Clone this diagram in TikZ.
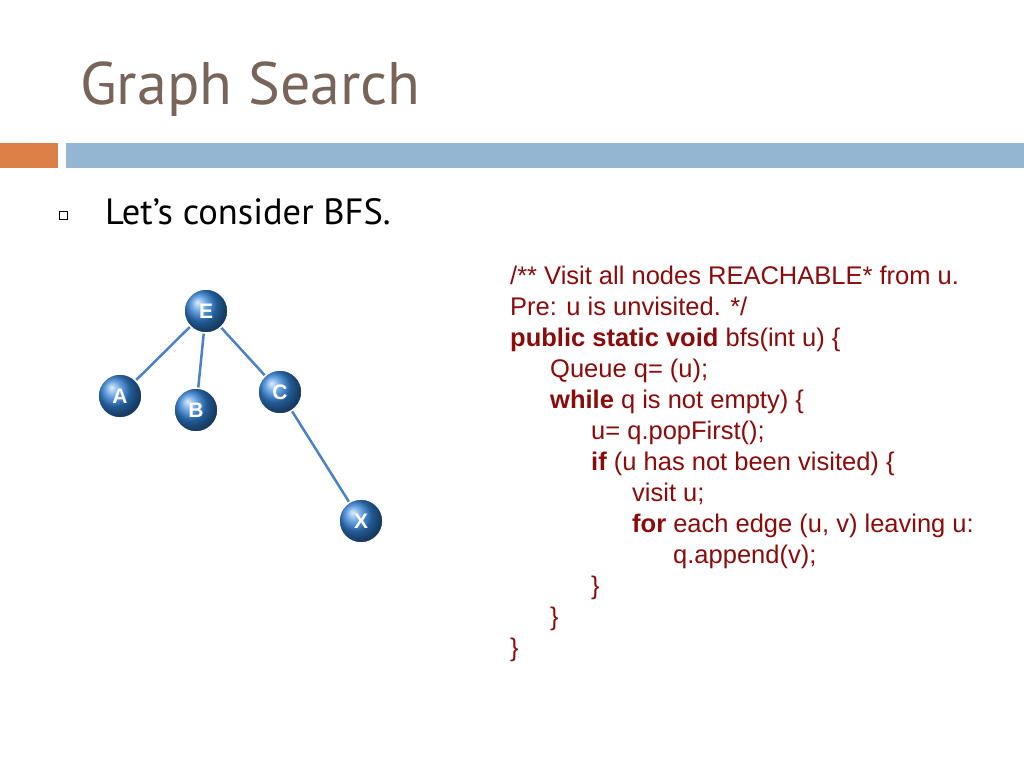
\documentclass[tikz,border=0pt]{standalone}
\usepackage{fontspec}
\usetikzlibrary{backgrounds}
\setmainfont{Liberation Sans}
\newfontfamily\titlefont{PT Sans}
\definecolor{titlec}{RGB}{120,100,88}
\definecolor{orangec}{RGB}{221,128,71}
\definecolor{bluec}{RGB}{148,182,210}
\definecolor{codec}{RGB}{140,10,10}
\definecolor{edgec}{RGB}{75,130,195}
\definecolor{ballc}{RGB}{50,130,215}
\begin{document}
\begin{tikzpicture}[x=1pt,y=-1pt,
  ball/.style={circle,minimum size=44pt,inner sep=0pt,shading=ball,ball color=ballc,draw=white,line width=1.5pt,text=white,font=\bfseries\fontsize{21}{21}\selectfont},
  edge/.style={draw=edgec,line width=2.5pt},
  code/.style={anchor=base west,text=codec,font=\fontsize{25.5}{25.5}\selectfont,inner sep=0pt}]
\useasboundingbox (0,0) rectangle (1024,768);
\node[anchor=base west,text=titlec,inner sep=0pt,font=\titlefont\fontsize{60}{60}\selectfont] (title) at (80,104) {Graph Search};
\fill[orangec] (0,143) rectangle (58,168);
\fill[bluec] (66,143) rectangle (1024,168);
\node[draw,line width=0.7pt,minimum size=8pt,inner sep=0pt] (bul) at (63,215) {};
\node[anchor=base west,inner sep=0pt,font=\titlefont\fontsize{36.5}{36.5}\selectfont] (h) at (105,224) {Let’s consider BFS.};
\node[ball] (E) at (206,311) {E};
\node[ball] (A) at (120,396) {A};
\node[ball] (B) at (196,410) {B};
\node[ball] (C) at (280,392) {C};
\node[ball] (X) at (361,521) {X};
\begin{pgfonlayer}{background}
\draw[edge] (E.center) -- (A.center);
\draw[edge] (E.center) -- (B.center);
\draw[edge] (E.center) -- (C.center);
\draw[edge] (C.center) -- (X.center);
\end{pgfonlayer}
\node[code] (l1) at (510,284) {/** Visit all nodes REACHABLE* from u.};
\node[code] (l2) at (510,315) {Pre: u is unvisited. */};
\node[code] (l3) at (510,346) {\textbf{public static void} bfs(int u) \{};
\node[code] (l4) at (550,377) {Queue q= (u);};
\node[code] (l5) at (550,408) {\textbf{while} q is not empty) \{};
\node[code] (l6) at (591,439) {u= q.popFirst();};
\node[code] (l7) at (591,470) {\textbf{if} (u has not been visited) \{};
\node[code] (l8) at (632,501) {visit u;};
\node[code] (l9) at (632,532) {\textbf{for} each edge (u, v) leaving u:};
\node[code] (l10) at (673,563) {q.append(v);};
\node[code] (l11) at (591,594) {\}};
\node[code] (l12) at (550,625) {\}};
\node[code] (l13) at (510,656) {\}};
\end{tikzpicture}
\end{document}
